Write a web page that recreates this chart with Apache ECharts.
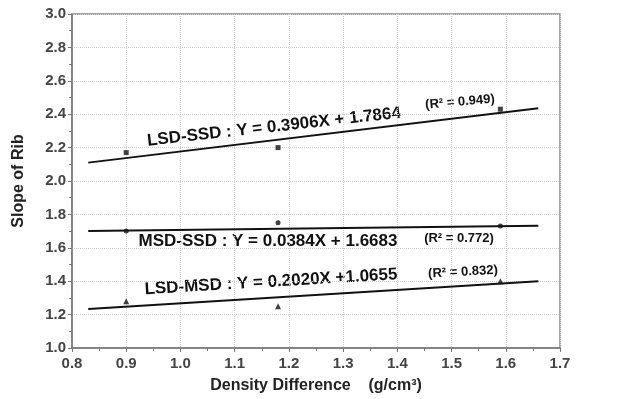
<!DOCTYPE html>
<html>
<head>
<meta charset="utf-8">
<script src="https://cdn.jsdelivr.net/npm/echarts@6/dist/echarts.min.js"></script>
<style>
  html, body { margin: 0; padding: 0; background: #fff; }
  #chart { width: 620px; height: 399px; }
</style>
</head>
<body>
<div id="chart"></div>
<script>
// measured points (density difference vs slope of rib)
const xVals = [0.9, 1.18, 1.59];
const lsdSsd = [2.17, 2.20, 2.43];
const msdSsd = [1.70, 1.75, 1.73];
const lsdMsd = [1.28, 1.25, 1.40];

// fitted lines, end points
const fitX = [0.83, 1.66];
const lsdSsdFit = [2.11, 2.435];
const msdSsdFit = [1.70, 1.732];
const lsdMsdFit = [1.233, 1.40];

const eqTexts = [
  'LSD-SSD : Y = 0.3906X + 1.7864',
  'MSD-SSD : Y = 0.0384X + 1.6683',
  'LSD-MSD : Y = 0.2020X +1.0655'
];
const r2Texts = ['(R\u00b2 = 0.949)', '(R\u00b2 = 0.772)', '(R\u00b2 = 0.832)'];

const pair = (xs, ys) => xs.map((x, i) => [x, ys[i]]);

const chart = echarts.init(document.getElementById('chart'));

const axisText = { color: '#444', fontSize: 15, fontWeight: 'bold', fontFamily: 'Liberation Sans' };
const titleText = { color: '#222', fontSize: 16, fontWeight: 'bold', fontFamily: 'Liberation Sans' };
const dotted = { show: true, lineStyle: { color: '#d0d0d0', type: 'dotted', width: 1 } };

const fitLine = (data) => ({
  type: 'line',
  data: data,
  symbol: 'none',
  lineStyle: { color: '#111', width: 2 },
  silent: true,
  z: 3
});
const points = (data, sym, size) => ({
  type: 'scatter',
  data: data,
  symbol: sym,
  symbolSize: size,
  itemStyle: { color: '#111' },
  z: 4
});

const eqLabel = (text, x, y, rot, size) => ({
  type: 'text',
  x: x,
  y: y,
  rotation: rot * Math.PI / 180,
  style: {
    text: text,
    fill: '#111',
    font: 'bold ' + size + 'px "Liberation Sans"',
    align: 'center',
    verticalAlign: 'middle'
  }
});

chart.setOption({
  animation: false,
  backgroundColor: '#fff',
  grid: {
    left: 72, right: 60, top: 14, bottom: 51,
    show: true, borderColor: '#888', borderWidth: 1.5
  },
  xAxis: {
    type: 'value',
    min: 0.8, max: 1.7, interval: 0.1,
    name: 'Density Difference    (g/cm\u00b3)',
    nameLocation: 'middle',
    nameGap: 30,
    nameTextStyle: titleText,
    axisLine: { show: true, lineStyle: { color: '#777', width: 1.5 } },
    axisTick: { show: true, length: 4, lineStyle: { color: '#777' } },
    minorTick: { show: true, splitNumber: 2, length: 3, lineStyle: { color: '#777' } },
    axisLabel: Object.assign({ margin: 8, formatter: v => v.toFixed(1) }, axisText),
    splitLine: dotted
  },
  yAxis: {
    type: 'value',
    min: 1.0, max: 3.0, interval: 0.2,
    name: 'Slope of Rib',
    nameLocation: 'middle',
    nameGap: 45,
    nameTextStyle: titleText,
    axisLine: { show: true, lineStyle: { color: '#777', width: 1.5 } },
    axisTick: { show: true, length: 4, lineStyle: { color: '#777' } },
    minorTick: { show: true, splitNumber: 2, length: 3, lineStyle: { color: '#777' } },
    axisLabel: Object.assign({ margin: 6, formatter: v => v.toFixed(1) }, axisText),
    splitLine: dotted
  },
  series: [
    fitLine(pair(fitX, lsdSsdFit)),
    fitLine(pair(fitX, msdSsdFit)),
    fitLine(pair(fitX, lsdMsdFit)),
    points(pair(xVals, lsdSsd), 'rect', 5),
    points(pair(xVals, msdSsd), 'circle', 5),
    points(pair(xVals, lsdMsd), 'triangle', 6)
  ],
  graphic: [
    eqLabel(eqTexts[0], 274, 127, 6.3, 17),
    eqLabel(r2Texts[0], 460, 102, 5, 13),
    eqLabel(eqTexts[1], 268, 241, 0, 17),
    eqLabel(r2Texts[1], 459, 238, 0, 13),
    eqLabel(eqTexts[2], 271, 282, 3.4, 17),
    eqLabel(r2Texts[2], 463, 272, 3, 13)
  ]
});
</script>
</body>
</html>
